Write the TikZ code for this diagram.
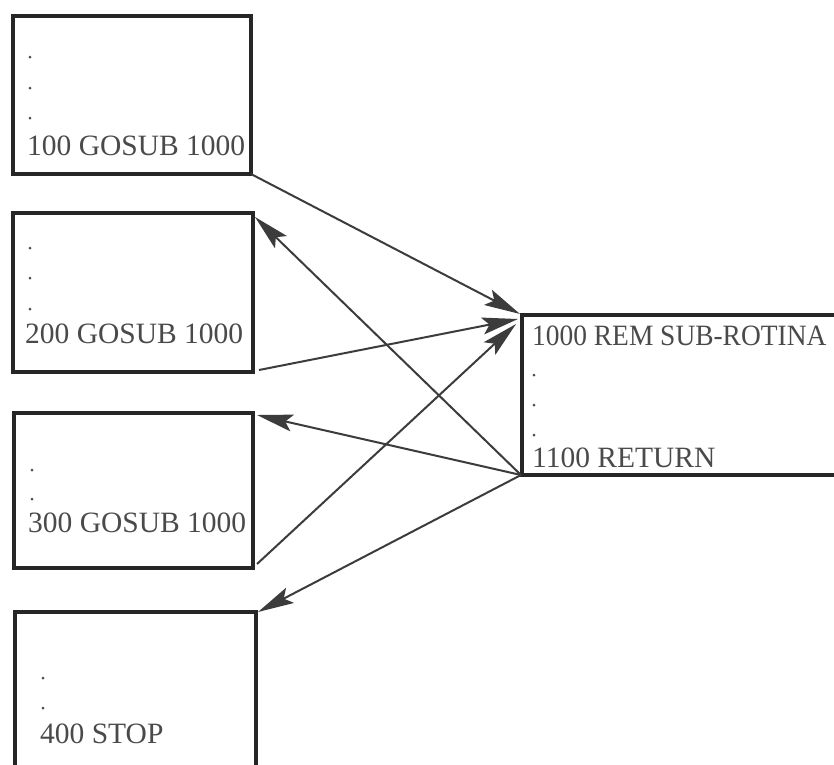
\documentclass[tikz,border=0pt]{standalone}
\usepackage{fontspec}
\setmainfont{Liberation Serif}
\usetikzlibrary{arrows.meta}
\definecolor{ink}{HTML}{262626}
\definecolor{txt}{HTML}{4A4A4A}
\tikzset{
  box/.style={draw=ink, line width=3.2pt, rectangle, inner sep=0pt, outer sep=0pt},
  code/.style={anchor=base west, text=txt, font=\fontsize{29.5}{31}\selectfont, inner sep=0pt},
  dot/.style={fill=txt, circle, inner sep=0pt, minimum size=3pt},
  conn/.style={draw=ink!90, line width=2pt, -{Stealth[length=36pt, width=17pt, inset=7pt]}}
}
\begin{document}
\begin{tikzpicture}[x=1pt, y=-1pt]
\clip (0,0) rectangle (834,764);
\fill[white] (0,0) rectangle (834,764);
% boxes
\node[box, minimum width=238pt, minimum height=158pt] (b1) at (132,95) {};
\node[box, minimum width=240pt, minimum height=159pt] (b2) at (133,292.5) {};
\node[box, minimum width=239pt, minimum height=155pt] (b3) at (133.5,490.5) {};
\node[box, minimum width=241pt, minimum height=190pt] (b4) at (135.5,707) {};
\node[box, minimum width=380pt, minimum height=160pt] (b5) at (712,395) {};
% texts
\node[code] (t1) at (27,155) {100 GOSUB 1000};
\node[code] (t2) at (25,343) {200 GOSUB 1000};
\node[code] (t3) at (28,532) {300 GOSUB 1000};
\node[code] (t4) at (40,743) {400 STOP};
\node[code] (t5) at (532,345) {\scalebox{0.93}[1]{1000 REM SUB-ROTINA}};
\node[code] (t6) at (532,467) {1100 RETURN};
% dots
\node[dot] (d11) at (30,57) {};
\node[dot] (d12) at (30,88) {};
\node[dot] (d13) at (30,118) {};
\node[dot] (d21) at (30,248) {};
\node[dot] (d22) at (30,278) {};
\node[dot] (d23) at (30,309) {};
\node[dot] (d31) at (32,470) {};
\node[dot] (d32) at (32,499) {};
\node[dot] (d41) at (43,678) {};
\node[dot] (d42) at (43,708) {};
\node[dot] (d51) at (534,375) {};
\node[dot] (d52) at (534,405) {};
\node[dot] (d53) at (534,435) {};
% connector end points
\coordinate (in1) at (520,314);
\coordinate (in2) at (518,319);
\coordinate (in3) at (516,324);
\coordinate (out5) at (521,475);
\coordinate (s2) at (259,370);
\coordinate (s3) at (257,564);
\coordinate (e2) at (255,217);
\coordinate (e3) at (257,415);
\coordinate (e4) at (258,612);
% connectors
\draw[conn] (b1.south east) -- (in1);
\draw[conn] (s2) -- (in2);
\draw[conn] (s3) -- (in3);
\draw[conn] (out5) -- (e2);
\draw[conn] (out5) -- (e3);
\draw[conn] (out5) -- (e4);
\end{tikzpicture}
\end{document}
